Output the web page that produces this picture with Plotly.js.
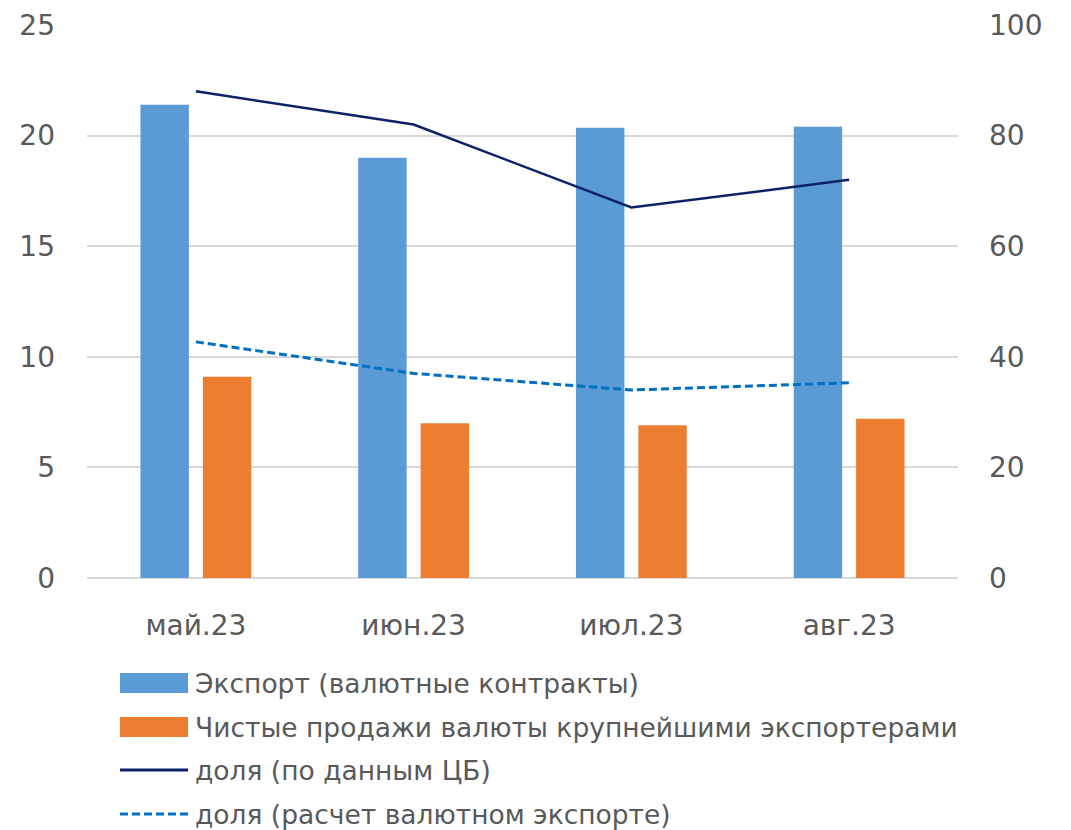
<!DOCTYPE html>
<html>
<head>
<meta charset="utf-8">
<script src="https://cdn.plot.ly/plotly-3.0.1.min.js"></script>
<style>html,body{margin:0;padding:0;background:#fff;}#chart{width:1071px;height:830px;}</style>
</head>
<body>
<div id="chart"></div>
<script>
const months = ["май.23", "июн.23", "июл.23", "авг.23"];
const exportValues = [21.4, 19.0, 20.35, 20.4];
const netSales = [9.1, 7.0, 6.9, 7.2];
const shareCB = [88.0, 82.0, 67.0, 72.0];
const shareCalc = [42.7, 37.0, 34.0, 35.3];
const seriesNames = [
  "Экспорт (валютные контракты)",
  "Чистые продажи валюты крупнейшими экспортерами",
  "доля (по данным ЦБ)",
  "доля (расчет валютном экспорте)"
];
const colors = ["#5B9BD5", "#ED7D31", "#0C2266", "#0070C0"];

const W = 1071, H = 830;
const M = {l: 87, r: 113, t: 25, b: 252};
const pw = W - M.l - M.r, ph = H - M.t - M.b;
const px2x = x => (x - M.l) / pw;
const px2y = y => (H - M.b - y) / ph;

const font = "DejaVu Sans, sans-serif";
const textColor = "#595959";
const dashStyle = "8px,4px";

const traces = [
  {type: "bar", x: months, y: exportValues, name: seriesNames[0], marker: {color: colors[0]}, showlegend: false},
  {type: "bar", x: months, y: netSales, name: seriesNames[1], marker: {color: colors[1]}, showlegend: false},
  {type: "scatter", mode: "lines", x: months, y: shareCB, yaxis: "y2", name: seriesNames[2], line: {color: colors[2], width: 2.5}, showlegend: false},
  {type: "scatter", mode: "lines", x: months, y: shareCalc, yaxis: "y2", name: seriesNames[3], line: {color: colors[3], width: 3, dash: dashStyle}, showlegend: false}
];

// custom legend (wide swatches as in the reference)
const shapes = [];
const annotations = [];
const rowY = [683, 727, 770, 814];
seriesNames.forEach((nm, i) => {
  const yc = rowY[i];
  if (i < 2) {
    shapes.push({type: "rect", xref: "paper", yref: "paper",
      x0: px2x(120), x1: px2x(188), y0: px2y(yc - 10), y1: px2y(yc + 10),
      fillcolor: colors[i], line: {width: 0}});
  } else {
    shapes.push({type: "line", xref: "paper", yref: "paper",
      x0: px2x(120), x1: px2x(188), y0: px2y(yc), y1: px2y(yc),
      line: {color: colors[i], width: 3, dash: i === 3 ? dashStyle : "solid"}});
  }
  annotations.push({xref: "paper", yref: "paper", x: px2x(193), y: px2y(yc),
    xanchor: "left", yanchor: "middle", showarrow: false, text: nm,
    font: {family: font, size: 26.5, color: textColor}});
});

const layout = {
  width: W, height: H,
  margin: M,
  paper_bgcolor: "#fff", plot_bgcolor: "#fff",
  font: {family: font, color: textColor},
  barmode: "group", bargap: 0.427, bargroupgap: 0.224,
  showlegend: false,
  xaxis: {type: "category", showgrid: false, zeroline: false, showline: false, ticks: "",
    tickfont: {family: font, size: 28, color: textColor}, ticklabelstandoff: 28},
  yaxis: {range: [0, 25], dtick: 5, showgrid: true, gridcolor: "#D9D9D9", gridwidth: 2,
    zeroline: true, zerolinecolor: "#D9D9D9", zerolinewidth: 2, showline: false, ticks: "",
    tickfont: {family: font, size: 28, color: textColor}, ticklabelstandoff: 31},
  yaxis2: {range: [0, 100], dtick: 20, overlaying: "y", side: "right", showgrid: false,
    zeroline: false, showline: false, ticks: "",
    tickfont: {family: font, size: 28, color: textColor}, ticklabelstandoff: 30},
  shapes: shapes,
  annotations: annotations
};

Plotly.newPlot("chart", traces, layout, {displayModeBar: false, staticPlot: true});
</script>
</body>
</html>
